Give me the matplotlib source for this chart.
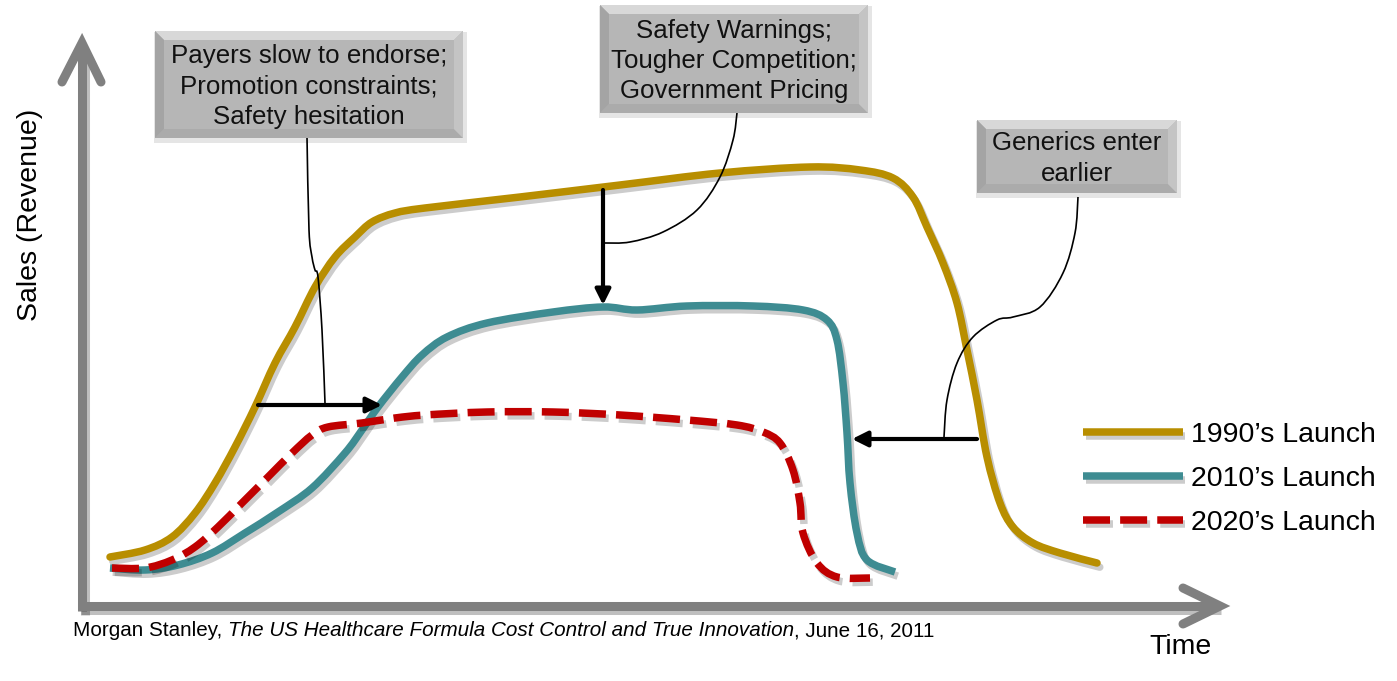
import matplotlib.pyplot as plt
import matplotlib.patheffects as pe
from matplotlib.path import Path
from matplotlib.patches import PathPatch
from matplotlib.lines import Line2D
import numpy as np

plt.rcParams['font.family'] = ['Liberation Sans', 'DejaVu Sans']

# time / sales (origin where the two axes meet)
t_1990 = [28, 63, 90, 113, 133, 153, 173, 193, 213, 233, 253, 273, 290, 313, 343,
          438, 538, 638, 728, 778, 811, 831, 845, 861, 875, 885, 895, 905, 918,
          931, 951, 978, 1015]
s_1990 = [49, 56, 69, 93, 123, 159, 199, 243, 279, 319, 349, 369, 384, 393, 398,
          409, 421, 433, 439, 436, 428, 409, 379, 343, 303, 256, 206, 149, 103,
          79, 63, 53, 43]

t_2010 = [28, 63, 96, 130, 163, 196, 230, 263, 280, 296, 320, 340, 365, 405, 471,
          521, 555, 605, 671, 721, 745, 755, 761, 765, 768, 775, 785, 813]
s_2010 = [38, 36, 41, 53, 73, 94, 118, 153, 176, 199, 229, 251, 269, 283, 294,
          299, 296, 300, 300, 296, 286, 266, 223, 173, 123, 73, 46, 34]

t_2020 = [30, 63, 90, 113, 136, 160, 186, 210, 230, 246, 280, 313, 343, 405, 471,
          538, 605, 655, 681, 698, 711, 718, 721, 735, 755, 788]
s_2020 = [38, 38, 46, 59, 79, 103, 129, 153, 171, 179, 183, 188, 191, 194, 194,
          191, 186, 181, 174, 163, 136, 103, 73, 43, 29, 28]

labels = ['1990\u2019s Launch', '2010\u2019s Launch', '2020\u2019s Launch']
colors = ['#B88E00', '#3E8C92', '#C00000']

notes = ['Payers slow to endorse;\nPromotion constraints;\nSafety hesitation',
         'Safety Warnings;\nTougher Competition;\nGovernment Pricing',
         'Generics enter\nearlier']

fig = plt.figure(figsize=(13.97, 6.81), dpi=100)
ax = fig.add_axes([0, 0, 1, 1])
ax.set_xlim(-82, 1315)
ax.set_ylim(-75, 606)
ax.axis('off')


def smooth_path(x, y):
    # smoothed line through the given points (like a drawing tool's curve)
    pts = np.column_stack([x, y]).astype(float)
    verts = [pts[0]]
    codes = [Path.MOVETO]
    n = len(pts)
    for i in range(n - 1):
        p0 = pts[i - 1] if i > 0 else pts[i]
        p1 = pts[i]
        p2 = pts[i + 1]
        p3 = pts[i + 2] if i + 2 < n else pts[i + 1]
        verts += [p1 + (p2 - p0) / 6, p2 - (p3 - p1) / 6, p2]
        codes += [Path.CURVE4] * 3
    return Path(verts, codes)


gray = '#808080'
shadow_ax = [pe.SimpleLineShadow(offset=(2, -3), shadow_color='k', alpha=0.25),
             pe.Normal()]

# axes with chevron heads
ax.plot([0, 0], [-5, 560], color=gray, lw=6.5, solid_capstyle='butt',
        path_effects=shadow_ax, zorder=2)
ax.plot([-4, 1136], [0, 0], color=gray, lw=6.5, solid_capstyle='butt',
        path_effects=shadow_ax, zorder=2)
ax.plot([-20, 0, 19], [524, 563, 524], color=gray, lw=6.5,
        solid_capstyle='round', solid_joinstyle='miter', zorder=2)
ax.plot([1101, 1138, 1101], [18, 0, -18], color=gray, lw=6.5,
        solid_capstyle='round', solid_joinstyle='miter', zorder=2)

# the three curves
line_fx = [pe.SimpleLineShadow(offset=(2, -3), shadow_color='k', alpha=0.2),
           pe.Normal()]
lw = 5.4
styles = ['-', '-', (0, (3.6, 1.35))]
caps = ['round', 'butt', 'butt']
series = [(t_1990, s_1990), (t_2010, s_2010), (t_2020, s_2020)]
for (tt, ss), c, ls, cap, z in zip(series, colors, styles, caps, [4, 4, 5]):
    ax.add_patch(PathPatch(smooth_path(tt, ss), fill=False, edgecolor=c, lw=lw,
                           linestyle=ls, capstyle=cap, joinstyle='round',
                           path_effects=line_fx, zorder=z))

handles = [Line2D([], [], color=c, lw=lw, ls=ls, solid_capstyle='butt',
                  path_effects=line_fx) for c, ls in zip(colors, styles)]
ax.legend(handles, labels, loc='upper left', bbox_to_anchor=(1001, 184),
          bbox_transform=ax.transData, frameon=False, fontsize=20.5,
          handlelength=3.5, handletextpad=0.3, labelspacing=0.63,
          borderpad=0, borderaxespad=0)

# black shift arrows
arrow_kw = dict(arrowstyle='-|>', lw=3, color='k', mutation_scale=23,
                shrinkA=0, shrinkB=0)
ax.annotate('', xy=(300, 201), xytext=(176, 201), arrowprops=arrow_kw, zorder=6)
ax.annotate('', xy=(521, 301), xytext=(521, 416), arrowprops=arrow_kw, zorder=6)
ax.annotate('', xy=(770, 167), xytext=(895, 167), arrowprops=arrow_kw, zorder=6)

# thin callout connectors
connectors = [
    ([225, 227, 230, 233, 236, 240, 243], [469, 376, 349, 336, 329, 276, 203]),
    ([655, 651, 638, 615, 581, 548, 523], [493, 466, 429, 396, 374, 364, 363]),
    ([996, 993, 981, 958, 931, 915, 891, 875, 865, 862],
     [409, 373, 333, 299, 289, 286, 269, 243, 206, 169]),
]
for cx, cy in connectors:
    ax.add_patch(PathPatch(smooth_path(cx, cy), fill=False, edgecolor='k',
                           lw=1.2, zorder=6))


def bevel_box(x0, x1, y0, y1, text, b=9):
    ax.fill([x0 - 1, x1 + 4, x1 + 4, x0 - 1], [y0 - 5, y0 - 5, y1 - 1, y1 - 1],
            color='k', alpha=0.10, lw=0, zorder=7)
    ax.fill([x0, x1, x1, x0], [y0, y0, y1, y1], color='#B6B6B6', lw=0, zorder=8)
    ax.fill([x0, x1, x1 - b, x0 + b], [y1, y1, y1 - b, y1 - b],
            color='#D8D8D8', lw=0, zorder=8)
    ax.fill([x0, x1, x1 - b, x0 + b], [y0, y0, y0 + b, y0 + b],
            color='#ABABAB', lw=0, zorder=8)
    ax.fill([x0, x0, x0 + b, x0 + b], [y0, y1, y1 - b, y0 + b],
            color='#A4A4A4', lw=0, zorder=8)
    ax.fill([x1, x1, x1 - b, x1 - b], [y0, y1, y1 - b, y0 + b],
            color='#C4C4C4', lw=0, zorder=8)
    ax.text((x0 + x1) / 2, (y0 + y1) / 2 - 2, text, ha='center', va='center',
            fontsize=18.6, linespacing=1.32, color='#111111', zorder=9)


bevel_box(73, 381, 468, 575, notes[0])
bevel_box(518, 786, 493, 601, notes[1])
bevel_box(895, 1095, 413, 486, notes[2])

# axis titles
ax.text(-52, 391, 'Sales (Revenue)', rotation=90, ha='center', va='center',
        fontsize=20.5)
ax.text(1099, -41, 'Time', ha='center', va='center', fontsize=20.5)

# source line
src1 = ax.text(-9, -25, 'Morgan Stanley, ', ha='left', va='center', fontsize=14.9)
src2 = ax.annotate('The US Healthcare Formula Cost Control and True Innovation',
                   xy=(1, 0), xycoords=src1, ha='left', va='bottom',
                   fontsize=14.9, style='italic')
ax.annotate(', June 16, 2011', xy=(1, 0), xycoords=src2, ha='left',
            va='bottom', fontsize=14.9)

fig.savefig('out.png', dpi=100)
